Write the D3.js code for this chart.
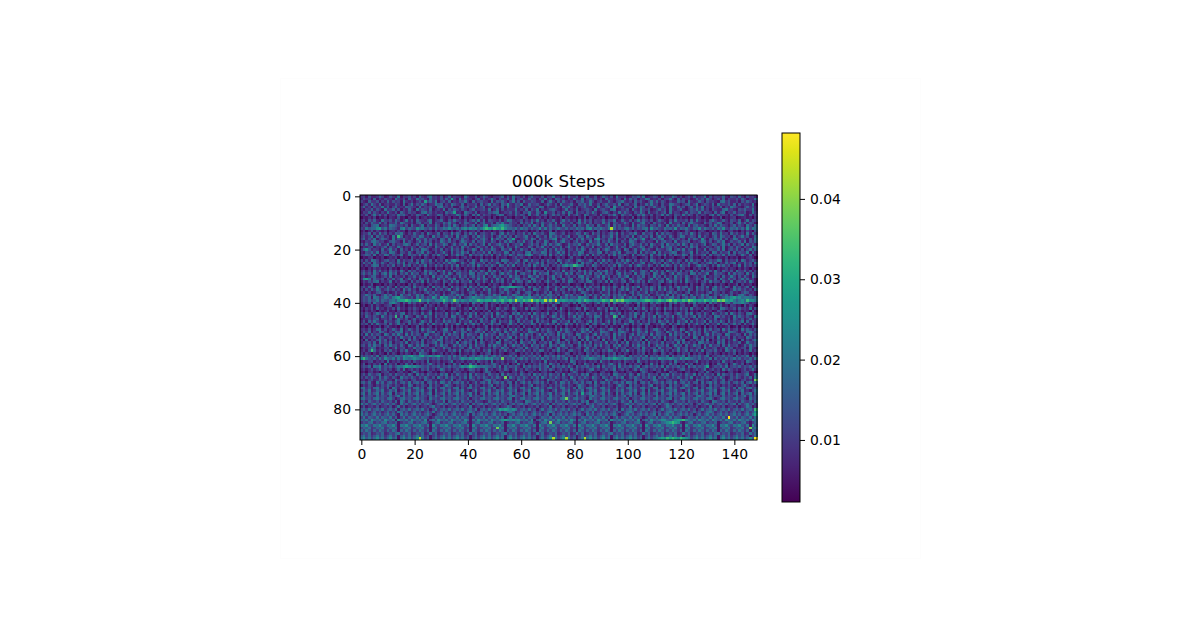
<!DOCTYPE html>
<html>
<head>
<meta charset="utf-8">
<script src="https://cdn.jsdelivr.net/npm/d3@7"></script>
<style>
  html, body { margin: 0; background: #fff; }
  svg { display: block; }
  text { font-family: "DejaVu Sans", sans-serif; fill: #000; }
</style>
</head>
<body>
<svg id="chart" width="1200" height="630"></svg>
<script>
const titleText = "000k Steps";
const xTicks = [0, 20, 40, 60, 80, 100, 120, 140];
const yTicks = [0, 20, 40, 60, 80];
const barTicks = [0.01, 0.02, 0.03, 0.04];
const colorDomain = [0.00228, 0.0482];

// Weight value for each level symbol used in the grid below.
const levelSymbols = "0123456789abcd";
const levelValues = [0.003, 0.005, 0.007, 0.009, 0.011, 0.014, 0.017, 0.020, 0.024, 0.028, 0.033, 0.038, 0.043, 0.048];

// One string per row, grouped in tens for easier editing; levels are estimated by eye.
const rows = [
"3415223641 2532714352 4163257342 5136243317 4225136421 3346152734 2514633251 4472315263 3514462251 3642517334 1254637123 5416233752 4135262347 1524336215 426315342",
"2534161425 3317425163 2745316342 5263941725 3314625247 4153362714 5226341537 2416533142 6327145352 4163325417 2635143762 3251447316 2534126352 7413526143 352641337",
"4216335142 6253417324 1352946371 4526132547 3162453317 2546314725 1633542261 4731526324 1546237413 5226314573 2416352147 3625314226 4517323641 5342167352 241536423",
"1352742613 4225316147 2536413375 6142753261 4335162472 5316483254 7126345213 6425173346 2154637225 1463352714 5236142637 3415227643 1356247135 4261734352 615243271",
"3624153372 5146232654 3172435216 7342511463 5237246135 3426173254 1645332761 4225316473 1524632417 3256184352 2417365143 6325417226 3514626371 4253361427 532146352",
"2143625317 3462514263 1735426134 2715364253 1462345271 3615243372 4261537142 3564213724 2613453172 4532671243 5163274351 2463517324 6213547362 4153226734 215463372",
"1436253142 7325164253 4126735242 3164592317 5426133254 6712435263 1547326418 3351426275 1634253741 2563142736 4215374162 3524617243 1362543725 4316257143 624351273",
"3251473625 1342756314 2653174236 5142337526 4163725341 2576134263 5417236245 1363524172 4631752341 6225473164 3512647325 1437263154 2736415243 1572634315 246731524",
"0213140213 0321512031 1402312130 4213021503 1203142130 3021412032 1530212413 0312140321 2031504213 1302124031 2150314203 1420312051 3120214302 1032150213 401231203",
"2415362174 3526413725 1643257134 6215374325 1463726154 3251476323 5142637241 5362147352 4172635143 3625471263 2514736425 1364215273 4351627324 1574236315 426137254",
"3152643725 1436275324 1562437153 2647341526 5327146235 1647325341 6253714263 3527164325 1473625143 2736154237 4162357241 6342517234 1625743216 3524761325 147362541",
"2431567134 2765342516 3247153264 1536274135 2461537825 6789765324 1536274172 4635217342 6153274516 3247163524 3172645315 4263172536 3417256342 1527364314 625317426",
"4375668957 3654278465 4867546374 5768657478 6878579a98 a98a866574 7563645847 3645754635 4756378465 7547c63546 7463546728 5643756483 6574365847 5463758436 574638476",
"1302514213 0231423031 1420312041 3120302513 0231403120 2143021503 1230214031 2504123120 3142012305 1320412031 4203120513 2031420312 0153120342 0213152034 120314205",
"2436152735 1426573142 6325174236 1542736415 2637145326 4157263414 3625174352 1764235142 3652741635 1424637152 3547216345 1726354214 6352741523 4165273416 352417263",
"3524716352 4172a61324 5376241735 2463517246 3152746325 1473625164 3572416325 1746352471 3265174326 1534726143 5271463526 1473526314 7623541725 3146275341 624735126",
"4625371465 3172546325 1743625341 6527145263 4136257418 3645175921 3462751634 2578136425 1637245178 3426517325 1647358214 6357124635 2417365284 1536472513 762341527",
"2143675341 2564317253 1472635142 7536241475 3261547326 4152637415 3724615327 4136257341 4625317246 1537426153 2764135243 1725634172 3546132476 2513647125 346271536",
"5263174623 7152436751 3624517263 4751362547 1635247162 3574261354 7124635147 2635741263 5472163547 3261745326 1574362517 4236174536 2741635247 1365247361 524716352",
"1324513246 1532741325 3164253174 2513624173 5214632517 3246153274 1326415372 4153261473 2516342713 5246137254 1632475136 2417356241 3152746132 5314627135 264153276",
"36852431 62 4735162417 3527641352 6142735261 4375162437 5216437152 6341752436 1527364154 2637415236 1475236417 5136247352 1643257146 3725416327 1543627145 362514736",
"2154637154 2763154263 1547263152 4731625374 6152436271 5342761524 3167254376 1524736152 4376125436 7152463712 5436172534 7162435761 2534716243 5176253471 625437162",
"3465271437 6253471264 5372641537 4261537462 1735462537 1462537426 5378623546 1725374162 5374261735 2416372546 3172546317 2463715264 3751624357 1624537264 5137426135",
"0213402130 1324031205 2130421302 4301213024 1302140213 0412301352 4213021402 1302413025 1320412031 4213021530 2143012405 2130412301 2403512031 4201321402 130213420",
"4152764135 6341725346 1527436152 4173786341 5263174526 3417652346 1572634152 6341752463 1574236415 2736415263 7415263417 5236147325 4162735416 2534761524 361752463",
"2635174263 1542637154 3716425314 2637451263 1572436152 3741625374 2615347261 5436172534 2617354162 7351426537 4162357142 6351742635 1427365142 5736142635 7142635172",
"3142576142 5361427361 4253714263 5142637142 5361742536 4175263714 2536174263 5142537867 a976142753 1425361742 3614753264 1527364152 7436125746 3152746351 427163524",
"1203142312 0412031203 1520312041 2031514203 1240312052 0312413120 3142031205 1302413205 1340213041 2031520413 1203141230 4120312051 3412031420 5120312413 203142031",
"3524173624 1635274163 5241735416 3724163524 1735264173 6251436275 3146275341 6253417235 4163725416 3572416325 1473256417 3625174352 6143725163 4527316425 174362514",
"4635274157 2746153627 4513627451 3627415634 2761543726 4157364271 5634172645 7136452736 1542736154 7263415726 3417256341 7526314726 5341762534 7126453172 635417263",
"2413562135 2714325143 6251431724 5263142735 1462537142 6351427365 1427536241 5372461352 4167253146 2735142635 7142536142 7351624173 5264135247 1325416237 415263174",
"38972643 51 5362471362 4175362417 3526471352 6142736514 2736152476 3541762351 6274136257 1436271534 2617345263 1742563147 2635174263 5174236417 5326174263 514736241",
"1425367142 3714265316 2537162453 1642736154 3715426317 2536142736 5147263514 7326415276 3145267314 5261734256 1473625174 3256147352 6174325146 2735416327 145362741",
"0312501203 1420312041 5213024132 1504213024 1320512031 4203125012 3041203120 5142031240 1320512413 0213042130 5102314201 3250123041 2130412053 1203142031 2504123012",
"3526417352 6417253641 7354261735 2641735246 1735264713 5268789987 6417352614 7326417535 2641736245 1735264173 5264713526 4173526147 3562417352 6147352641 735246173",
"4152637524 6352417362 4153724163 5247136241 7352416372 4153762415 3624175324 6137254163 5274163524 1736251463 7254163527 4163725416 3527416352 4176354213 746352416",
"2314125631 4125236142 5231463523 1412653141 2563141262 3145263146 1256314125 2614315231 4126531412 5236141523 1462523614 2523146352 3146125231 4625314125 231465231",
"3475362147 4625173462 3746125374 1624537462 1527364253 7461253764 2537146253 7642513746 2531746253 1746253647 3162574361 2546371625 3741625374 6125374625 136742531",
"3546176357 6478965435 2746354863 9785463714 5687654676 5687856478 9678654736 4635174635 5487651362 7354163572 4635174635 3162546735 1463572463 5746135768 978677656",
"3546457365 4675899a97 89b7686577 8a868b8687 6878a98998 a89a89a8c9 8a9ac9a89c 8b9d889878 7897a98787 8a98b9bab9 9888789aa9 89a98ab9a9 8a9ba9898a 98a9bab989 75786a887",
"2435174352 3786415273 5243162435 1742635243 5174362514 3527416352 7143526174 3526714352 6174253147 2536174352 6413725416 3752416372 5416372546 1735241673 767865243",
"1302514213 4502413021 3120514203 1240213501 2041302514 2031240312 5013024120 3152013420 1305412031 2405130214 3120514203 4120315021 3412053120 4130251204 312051420",
"3142516231 4251623142 5316423172 4231652314 2716342513 1642531742 3162754231 5426173142 3651742316 4251736142 3516427315 2641735142 6351724316 4253176423 516342715",
"2031420312 5120412031 4203125031 2401320512 3041203150 2314201350 2120413201 4120352041 2031502412 3150214203 1240312503 1420512031 4250312041 2301542031 204132051",
"4253147536 1425367142 5316247153 4261537415 2637142536 1742531647 2536174253 7146253174 2635174352 6142753614 2537416253 1742653147 5263714526 3174253617 425316742",
"3164253174 253a261743 1642735162 4351762531 4725316427 1536427153 6241735264 1375264153 7264135276 41532a7164 2537146253 7164253714 6352471635 2417635241 736425317",
"1324256134 2513742513 6241325134 1624351462 5132462513 6241325146 3251436241 5134625132 4651324162 5134261532 4613254163 5241632513 4625136241 5326143251 642513624",
"2516374216 3425713462 5137426153 2746351624 3725163427 5163427316 2534716253 4176253471 6253147263 5147263514 3762514263 5174362516 3471625347 1625374162 534716253",
"4351627435 1624735162 4375162743 5162437516 2473516247 3561247351 6243751624 7351624735 1624371562 4735162437 5162473561 2437516247 3516247351 6243715624 735162473",
"1203021403 5212041302 1503124031 2041503120 4130212504 1203041213 0512031402 1205130412 0314205130 2140312051 2031420512 0314120530 1204131205 0314021250 140312041",
"3425136725 1364271364 2517364251 3672514362 7513642517 3642516372 5136427153 6425173642 5136472513 6425731642 5173642513 6742513642 7513642517 3624517362 451736425",
"2536142753 1426571426 3514265714 2653174265 1426537142 6351742653 1427653142 6531742653 1427536142 7653142675 3142653714 2653174263 5174263517 4265314276 531426753",
"4172635417 5263741726 3541762354 1726354172 6534172635 4175263541 7263514726 3541726354 1762351472 6354172635 1472635417 2653417263 5417263514 7263541762 354172635",
"1524351642 3515274351 6243515243 7152435162 4351572435 1624357162 4351524371 6243517243 5162473516 2435172435 1624357142 6351724351 6243175162 4351724361 524317524",
"3061425736 1425306172 5306142537 6142530714 2537061425 3071642530 6142753061 4253701642 5306172453 0714265307 1425360714 2530714265 3701425361 7042536142 730614257",
"2435261735 2614352714 3526143572 6143527146 3517264135 2761435261 7435261435 2714635261 4371526143 5271436152 7143526173 4526143527 1635241763 5241736152 436127435",
"4526374516 3745263175 2637451263 7451263745 1627345163 7452613745 2631745263 1745267345 1263745163 7245163724 5163745261 3745261374 5162374516 2734516273 451263745",
"1324751324 5137245132 7451324513 2745132451 3724513241 5327451324 5173245132 4513724513 2451372451 3245137245 1324517324 5173245137 2451324517 3245132745 132451732",
"2415a62415 3624153724 1536241753 2415362714 5362415372 4153624175 3624153762 4153724156 3241753624 1537624153 7241536241 7536241537 2461536271 4536241753 624153724",
"3142031420 5142031420 3175420312 4031420512 3142031450 3142013420 3142514203 1420312540 3142053142 0314250314 2031425031 4205314203 1425031420 5314203142 503142031",
"5354637146 3547658789 7689678789 6546374635 1463574635 7463546371 4635463716 5463746354 1635473546 3715463574 1635463715 4635471635 4716354635 7143546354 163547163",
"8a75463748 6573748767 8765463546 3546354687 6879876878 564b354635 7463546374 6354635716 4635768765 4768798768 7654636547 6587678765 8687654635 4716354635 746354637",
"1324513241 7132413241 5324171324 1324713241 3241532417 1324132471 3241532417 1324132417 5132413241 7324132415 3241732413 2415324173 2413247132 4132417324 132417532",
"2503142507 1425031625 0314257314 2503162503 1725031425 6314250317 2503142635 1742503142 6031742503 1425731625 0314250317 2504316250 3172503142 5031642503 742503142",
"3546176835 4635768987 8765463546 3546354687 8a98767654 6371635463 1746354635 7163546374 1635463547 1635461735 4635714635 4637163546 3517463546 9135463714 546354635",
"2413524735 2413627135 2415362413 7524135241 3652413724 1352641372 4153241735 2641352417 3524136724 1352471352 4136275413 5241732413 5624135247 1352417364 241352473",
"1203412034 5120341203 7412034120 3412053412 0341203651 2034120341 5203412034 1205341203 6412034120 3412054120 3412036412 0341205341 2034120341 6203412034 120345120",
"3526435714 3526435264 1735264352 6471526435 1726435264 3517264352 6435174635 2643517264 3526471352 6435176435 2641735264 3516472643 5264371526 4351726435 264357126",
"4253642736 4253174536 4253642517 4263642536 1742536425 3642b17425 3642536174 2536425317 4253642753 1642536471 2536425364 7153642536 4253714253 6425374125 364253617",
"2314523645 2317452314 5231645231 4523714523 1452314673 5231452316 4523145231 7452314523 6145231452 3174523145 2316452314 7523145231 6452317452 3145236145 23145231b",
"5636217362 5636256372 5636156362 7636256362 5136256372 5636256162 5736256362 5136276362 5636256172 5636256362 7636156362 5636256372 5636256162 5736256362 563615736",
"1425314253 6425314275 1425316253 1475314253 1625314257 1425316253 1425714253 1425364253 1475314263 1425314753 1625314257 1425316253 1475314253 1625314253 142573142",
"6735267352 6175267352 6735167352 6735267152 6735267352 6135267352 6735167352 6735267352 6175267352 6735217352 6735267352 6715267352 6735267152 6735267352 617526735",
"3647236472 3647136472 3647236172 3647236472 3147236472 3647236471 3647236472 3147236472 3647136472 3647236472 3647236172 3647236472 3147236472 3647136472 364723147",
"5726357263 5716357263 5726357163 5726357263 5726157263 5726357263 5716357263 5726357263 5729357263 5726317263 5726157263 5716357263 5726357263 5726157263 571635726",
"2635426354 2635726354 2635426374 2635426354 2735426354 2635426754 2635426354 2735426354 2635426754 2635426357 2635426354 2735426354 2635426754 2635426354 263572635",
"6745367453 6741367453 6745317453 6745367453 6145367453 6745367153 6745367453 6745367b53 6745317453 6745367453 6145367453 6745367153 6745367453 6741367453 674531745",
"3526435264 3526175264 3526435264 3716435264 3526431264 3526435264 3176435264 3526435264 3526471264 3526435264 3716435264 3526431264 3526435264 3176435264 352643526",
"7463574635 7463174635 7463574135 7463574635 7163574635 7463514635 7463574635 7163574635 7463174635 7463574135 7463574635 7163574635 7463514635 7463574635 716357463",
"2513425134 2513725134 2513425734 2513425134 2713425134 2513475134 2513425134 2713425134 2513425734 2513425134 2713425134 2513475134 2513425134 2713425134 251347513",
"5647356473 5647156473 5647351473 5647356473 5647156473 5698987873 5647351473 5647356473 5147356473 5647356173 5647356473 5147356473 5647351473 5647356473 56473564a",
"6352463524 6352763524 6352463724 6352463524 6752463524 6352467524 6352463524 6752463524 6352463724 6352463524 6752463524 6352467524 6352463524 6752463524 635246358",
"7463574635 7463174635 7463574135 7463574635 7163574635 7463514635 7463574635 7163574635 7463174635 7463574135 7463574635 7163574635 7463514635 7463574635 746357479",
"4736547365 4736147365 4736541365 4736547365 4136547365 4736147365 4736541365 4736547365 4136547365 4736147365 4736541365 4736547365 4136547365 47365473d5 473654736",
"6574865748 6571865748 6574815748 6574865748 6174865748 6578987878 6574815748 6574865748 6174865748 6571865748 6574815748 6578865789 9a86574865 7486574865 748657486",
"3546735467 3546135467 3546731467 3546735467 3146735467 3546135467 3546731467 3b46735467 3146735467 3546135467 3546731467 3546789a98 3146735467 3546135467 354673146",
"7685476854 7685176854 7685471854 7685476854 7185476854 7685176854 7685471854 7685476854 7185476854 7685176854 7685471854 7685476854 7185476854 7685176854 768547185",
"4657346573 4657146573 4657341573 4657346573 4157346573 4b57146573 4657341573 4657346573 4157346573 4657146573 4657341573 4657346573 4157346573 4657146573 465734b57",
"6475364753 6475164753 6475361753 6475364753 6175364753 6475164753 6475361753 6475364753 6175364753 6475164753 6475361753 6475364753 6175364753 6475164753 647536175",
"3546235462 3546735462 3546237462 3546235462 3746235462 3546735462 3546237462 3546235462 3746235462 3546735462 3546237462 3546235462 3746235462 3546735462 354623746",
"5746357463 5746157463 5746351463 5746357463 5146357463 5746157463 5746351463 5746357463 5146357463 5746157463 5746351463 5746357463 5146357463 5746157463 574635146",
"6857468574 6857168574 68c7461574 6857468574 6157468574 6857168574 6857461574 68c7468c74 6157c68574 6857168574 6857461574 67898a9a98 a987468574 6857168574 68574685d"
];

// Parse symbols into a numeric grid of cell values.
const grid = rows.map(r => Array.from(r.replace(/\s/g, ""), s => levelValues[levelSymbols.indexOf(s)]));
const nCols = 149;
const nRows = grid.length;

const svg = d3.select("#chart");

// Faint outline of the figure canvas.
svg.append("rect")
  .attr("x", 280.5).attr("y", 78.5).attr("width", 640).attr("height", 480)
  .attr("fill", "none").attr("stroke", "#fdfdfd");

const plot = { left: 360, right: 757, top: 195, bottom: 440 };

const xBand = d3.scaleBand().domain(d3.range(nCols)).range([plot.left, plot.right]);
const yBand = d3.scaleBand().domain(d3.range(nRows)).range([plot.top, plot.bottom]);
const color = d3.scaleSequential(d3.interpolateViridis).domain(colorDomain);

svg.append("g").attr("shape-rendering", "crispEdges")
  .selectAll("g").data(grid).join("g")
  .attr("transform", (d, i) => `translate(0,${yBand(i)})`)
  .selectAll("rect").data(d => d.slice(0, nCols)).join("rect")
  .attr("x", (d, j) => xBand(j))
  .attr("width", xBand.bandwidth() + 0.5)
  .attr("height", yBand.bandwidth() + 0.5)
  .attr("fill", d => color(d));

// Axes follow cell centres, so tick 0 sits half a cell in from the frame.
const xAxisScale = d3.scaleLinear().domain([-0.5, nCols - 0.5]).range([plot.left, plot.right]);
const yAxisScale = d3.scaleLinear().domain([-0.5, nRows - 0.5]).range([plot.top, plot.bottom]);

function styleAxis(g) {
  g.selectAll("text").attr("font-size", 13.9).attr("font-family", "DejaVu Sans");
  g.selectAll("line").attr("stroke", "#000");
}

svg.append("g").attr("transform", `translate(0,${plot.bottom})`)
  .call(d3.axisBottom(xAxisScale).tickValues(xTicks).tickSize(5).tickPadding(4).tickFormat(d3.format("d")))
  .call(styleAxis).call(g => g.select(".domain").remove());

svg.append("g").attr("transform", `translate(${plot.left},0)`)
  .call(d3.axisLeft(yAxisScale).tickValues(yTicks).tickSize(5).tickPadding(4).tickFormat(d3.format("d")))
  .call(styleAxis).call(g => g.select(".domain").remove());

svg.append("rect")
  .attr("x", plot.left).attr("y", plot.top)
  .attr("width", plot.right - plot.left).attr("height", plot.bottom - plot.top)
  .attr("fill", "none").attr("stroke", "#000").attr("stroke-width", 1);

svg.append("text")
  .attr("x", (plot.left + plot.right) / 2).attr("y", 187)
  .attr("text-anchor", "middle").attr("font-size", 16.67)
  .text(titleText);

// Colour bar
const bar = { left: 782, right: 800, top: 133, bottom: 502 };
const barScale = d3.scaleLinear().domain(colorDomain).range([bar.bottom, bar.top]);

const gradient = svg.append("defs").append("linearGradient")
  .attr("id", "barGradient").attr("x1", 0).attr("y1", 1).attr("x2", 0).attr("y2", 0);
gradient.selectAll("stop").data(d3.range(0, 1.0001, 0.05)).join("stop")
  .attr("offset", d => d)
  .attr("stop-color", d => d3.interpolateViridis(d));

svg.append("rect")
  .attr("x", bar.left).attr("y", bar.top)
  .attr("width", bar.right - bar.left).attr("height", bar.bottom - bar.top)
  .attr("fill", "url(#barGradient)").attr("stroke", "#000").attr("stroke-width", 1);

svg.append("g").attr("transform", `translate(${bar.right},0)`)
  .call(d3.axisRight(barScale).tickValues(barTicks).tickSize(5).tickPadding(5).tickFormat(d3.format(".2f")))
  .call(styleAxis).call(g => g.select(".domain").remove());
</script>
</body>
</html>
